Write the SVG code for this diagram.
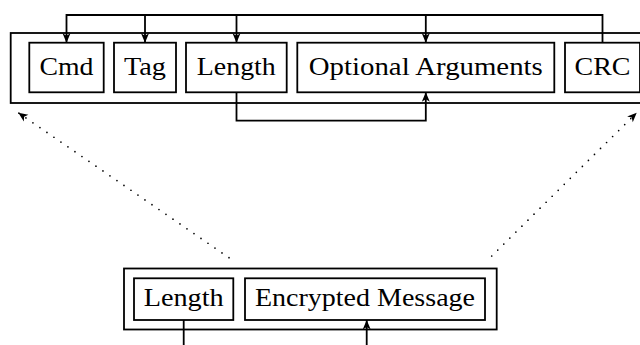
<svg xmlns="http://www.w3.org/2000/svg" width="640" height="345" viewBox="0 0 640 345">
<defs>
<style>
.box{fill:none;stroke:#000;stroke-width:1.8}
.t{font-family:"Liberation Serif","DejaVu Serif",serif;font-size:25px;fill:#000;text-anchor:middle}
.c{fill:none;stroke:#000;stroke-width:1.8}
.d{fill:none;stroke:#000;stroke-width:1.7;stroke-dasharray:0 8.5;stroke-linecap:round}
</style>
<marker id="arr" viewBox="-10 -5 12 10" refX="0" refY="0" markerWidth="12" markerHeight="10" markerUnits="userSpaceOnUse" orient="auto">
<path d="M0,0 L-9.5,-4 L-7,0 L-9.5,4 Z" fill="#000"/>
</marker>
</defs>
<rect width="640" height="345" fill="#fff"/>
<g id="packet">
<rect class="box" x="10.7" y="33" width="648" height="70"/>
</g>
<g id="cmd"><rect class="box" x="29.3" y="42.7" width="74.4" height="49.6"/><text class="t" x="66.5" y="75" textLength="54" lengthAdjust="spacingAndGlyphs">Cmd</text></g>
<g id="tag"><rect class="box" x="114" y="42.7" width="62" height="49.6"/><text class="t" x="145" y="75" textLength="42" lengthAdjust="spacingAndGlyphs">Tag</text></g>
<g id="length"><rect class="box" x="186" y="42.7" width="100.7" height="49.6"/><text class="t" x="236.3" y="75" textLength="79" lengthAdjust="spacingAndGlyphs">Length</text></g>
<g id="optargs"><rect class="box" x="297.3" y="42.7" width="257" height="49.6"/><text class="t" x="425.8" y="75" textLength="234" lengthAdjust="spacingAndGlyphs">Optional Arguments</text></g>
<g id="crc"><rect class="box" x="565" y="42.7" width="75" height="49.6"/><text class="t" x="602.5" y="75" textLength="56" lengthAdjust="spacingAndGlyphs">CRC</text></g>
<g id="envelope"><rect class="box" x="124" y="268.5" width="372.7" height="61"/></g>
<g id="len2"><rect class="box" x="134" y="278.3" width="99.3" height="41.7"/><text class="t" x="183.7" y="305.7" textLength="80" lengthAdjust="spacingAndGlyphs">Length</text></g>
<g id="enc"><rect class="box" x="245" y="278.3" width="240" height="41.7"/><text class="t" x="365" y="305.7" textLength="220" lengthAdjust="spacingAndGlyphs">Encrypted Message</text></g>
<g id="connectors">
<path class="c" d="M602.5,42.7 V15 H66.5 V42.7" marker-end="url(#arr)"/>
<path class="c" d="M145,15 V42.7" marker-end="url(#arr)"/>
<path class="c" d="M236.5,15 V42.7" marker-end="url(#arr)"/>
<path class="c" d="M425.8,15 V42.7" marker-end="url(#arr)"/>
<path class="c" d="M236.5,92.3 V120.7 H425.8 V92.3" marker-end="url(#arr)"/>
<path class="c" d="M183.7,320 V345"/>
<path class="c" d="M366.7,345 V320" marker-end="url(#arr)"/>
<path class="d" d="M229,257.7 L18.3,112.7" marker-end="url(#arr)"/>
<path class="d" d="M491.7,256 L636.7,112.7" marker-end="url(#arr)"/>
</g>
</svg>
